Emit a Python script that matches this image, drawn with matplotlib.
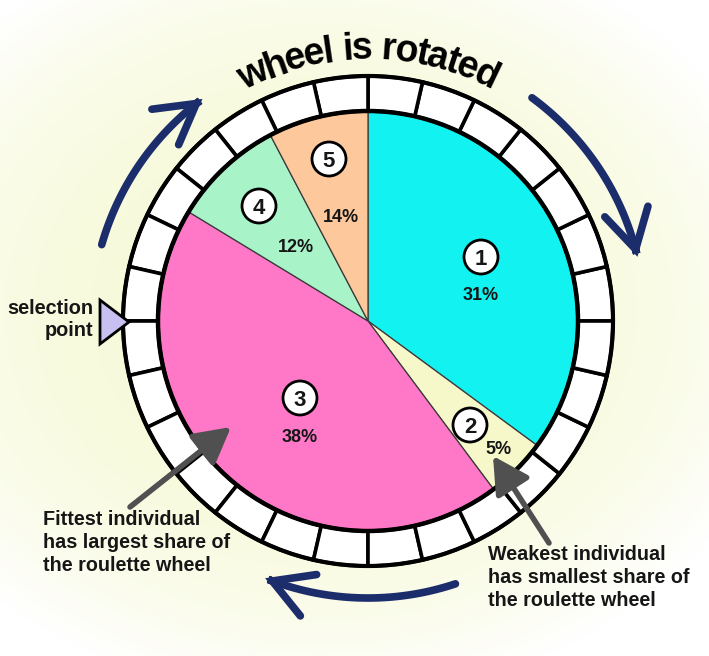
import numpy as np
import matplotlib
matplotlib.use("Agg")
import matplotlib.pyplot as plt
from matplotlib.patches import Wedge, Circle, Polygon, FancyArrowPatch
from matplotlib.path import Path
from matplotlib.font_manager import FontProperties

# ---------------- data ----------------
individuals = ["1", "2", "3", "4", "5"]
pct_labels = ["31%", "5%", "38%", "12%", "14%"]
# slice sizes as drawn in the picture (share of the wheel, %)
slice_share = [35.1, 4.7, 43.9, 8.6, 7.7]
slice_colors = ["#12F2F0", "#F6F8CA", "#FF78C8", "#A8F4C8", "#FCC89C"]
n_ring_cells = 28
title = "wheel is rotated"
sel_label = "selection\npoint"
fit_label = "Fittest individual\nhas largest share of\nthe roulette wheel"
weak_label = "Weakest individual\nhas smallest share of\nthe roulette wheel"

W, H = 709, 656
fig = plt.figure(figsize=(W / 100, H / 100), dpi=100)
ax = fig.add_axes([0, 0, 1, 1])
ax.set_xlim(0, W)
ax.set_ylim(0, H)
ax.axis("off")

# background: soft cream gradient
yy, xx = np.mgrid[0:H, 0:W]
d = np.sqrt(((xx - 320) / 480.0) ** 2 + ((yy - 310) / 390.0) ** 2)
t = np.clip(d, 0, 1) ** 3
c0 = np.array([0.968, 0.978, 0.850])
c1 = np.array([1.0, 1.0, 1.0])
img = c0[None, None, :] * (1 - t[..., None]) + c1[None, None, :] * t[..., None]
ax.imshow(img, extent=[0, W, 0, H], origin="upper", zorder=0, aspect="auto")

cx, cy = 368, H - 321
R_pie = 210
R_out = 245
navy = "#1C2D6C"
txt = "#161616"
fam = "Liberation Sans"

# pie
wedges, _ = ax.pie(slice_share, startangle=90, counterclock=False,
                   center=(cx, cy), radius=R_pie, colors=slice_colors,
                   wedgeprops=dict(edgecolor="#3a3a3a", linewidth=0.9),
                   frame=True)
for w in wedges:
    w.set_zorder(2)
ax.set_xlim(0, W)
ax.set_ylim(0, H)
ax.set_aspect("auto")
ax.axis("off")

# outer ring of cells
step = 360.0 / n_ring_cells
for k in range(n_ring_cells):
    ax.add_patch(Wedge((cx, cy), R_out, k * step, (k + 1) * step,
                       width=R_out - R_pie, facecolor="white",
                       edgecolor="black", linewidth=2.6, zorder=3))
ax.add_patch(Circle((cx, cy), R_pie, fill=False, edgecolor="black", lw=3.2, zorder=4))
ax.add_patch(Circle((cx, cy), R_out, fill=False, edgecolor="black", lw=3.0, zorder=4))

# number circles and percent labels
num_pos = [(481, 257), (470, 425), (300, 398), (259, 206), (329, 159)]
pct_pos = [(481, 294), (498, 448), (300, 435), (296, 245), (341, 215)]
for lab, (x, y) in zip(individuals, num_pos):
    ax.add_patch(Circle((x, H - y), 17, facecolor="white", edgecolor="black", lw=2, zorder=5))
    ax.text(x, H - y, lab, ha="center", va="center_baseline", fontsize=16,
            fontweight="bold", family=fam, color=txt, zorder=6)
for lab, (x, y) in zip(pct_labels, pct_pos):
    ax.text(x, H - y, lab, ha="center", va="center_baseline", fontsize=13,
            fontweight="bold", family=fam, color=txt, zorder=6)

# curved title
fp = FontProperties(family=fam, weight="bold", size=27)
renderer = fig.canvas.get_renderer()
def wid(s):
    w, h, dd = renderer.get_text_width_height_descent(s, fp, ismath=False)
    return w
track = 0.9
L = wid(title) * track
r_base = 262
for i, ch in enumerate(title):
    if ch == " ":
        continue
    p = (wid(title[: i + 1]) - wid(ch) / 2.0) * track
    ang = np.deg2rad(90) + (L / 2.0 - p) / r_base
    x = cx + r_base * np.cos(ang)
    y = cy + r_base * np.sin(ang)
    ax.text(x, y, ch, fontproperties=fp, ha="center", va="baseline",
            rotation=np.rad2deg(ang) - 90, rotation_mode="anchor",
            color="black", zorder=6)

# rotation arrows (clockwise)
R_arr = 277
def arc_arrow(a0, a1):
    th = np.deg2rad(np.linspace(a0, a1, 60))
    verts = np.column_stack([cx + R_arr * np.cos(th), cy + R_arr * np.sin(th)])
    path = Path(verts)
    ax.add_patch(FancyArrowPatch(path=path,
                                 arrowstyle="->,head_length=1.4,head_width=0.8",
                                 mutation_scale=20, lw=5.5, color=navy,
                                 capstyle="round", joinstyle="miter", zorder=5))
arc_arrow(164.0, 126.7)
arc_arrow(53.7, 13.4)
arc_arrow(288.4, 248.2)

# selection point marker
tri = Polygon([(100, H - 300), (100, H - 344), (129, H - 322)], closed=True,
              facecolor="#C9C0F2", edgecolor="black", lw=2, zorder=6)
ax.add_patch(tri)
ax.text(93, H - 320, sel_label, ha="right", va="center", fontsize=14.3,
        fontweight="bold", family=fam, color=txt, linespacing=1.2, zorder=6)

# pointer arrows
gray = "#505050"
for (x0, y0), (x1, y1) in [((130, 507), (231, 427)), ((549, 543), (493, 456))]:
    ax.add_patch(FancyArrowPatch((x0, H - y0), (x1, H - y1),
                                 arrowstyle="-|>,head_length=1.1,head_width=0.6",
                                 mutation_scale=20, lw=4, color=gray,
                                 shrinkA=0, shrinkB=0, zorder=7))

ax.text(43, H - 510, fit_label, ha="left", va="top", fontsize=14.2,
        fontweight="bold", family=fam, color=txt, linespacing=1.27, zorder=6)
ax.text(488, H - 545, weak_label, ha="left", va="top", fontsize=14.2,
        fontweight="bold", family=fam, color=txt, linespacing=1.27, zorder=6)

fig.savefig("out.png", dpi=100)
